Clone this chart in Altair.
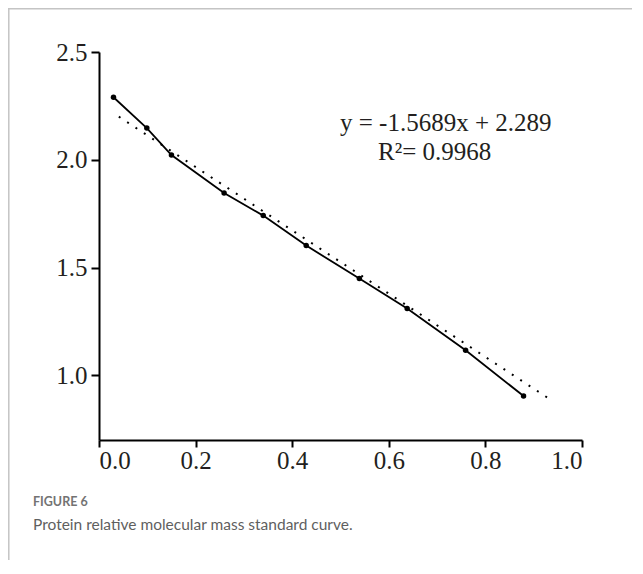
import altair as alt
import pandas as pd

# Data
x_vals = [0.030, 0.099, 0.150, 0.259, 0.340, 0.429, 0.539, 0.638, 0.759, 0.879]
y_vals = [2.290, 2.147, 2.022, 1.846, 1.741, 1.602, 1.449, 1.310, 1.116, 0.904]
trend_x = [0.041, 0.939]
trend_y = [2.200, 0.881]
x_ticks = [0.0, 0.2, 0.4, 0.6, 0.8, 1.0]
y_ticks = [1.0, 1.5, 2.0, 2.5]
eq_line1 = ["y = -1.5689x + 2.289"]
eq_line2 = ["R\u00b2= 0.9968"]
fig_label = ["FIGURE 6"]
fig_caption = ["Protein relative molecular mass standard curve."]

pts = pd.DataFrame({"x": x_vals, "y": y_vals})
trend = pd.DataFrame({"x": trend_x, "y": trend_y})

xs = alt.Scale(domain=[0, 1], nice=False, zero=False)
ys = alt.Scale(domain=[0.7, 2.5], nice=False, zero=False)

xax = alt.Axis(values=x_ticks, format=".1f", title=None, grid=False,
               tickSize=7, labelPadding=1)
yax = alt.Axis(values=y_ticks, format=".1f", title=None, grid=False,
               tickSize=8, labelPadding=4)

trend_layer = alt.Chart(trend).mark_line(
    color="black", strokeWidth=2, strokeDash=[2, 8], strokeCap="butt"
).encode(x=alt.X("x:Q", scale=xs, axis=xax), y=alt.Y("y:Q", scale=ys, axis=yax))

line_layer = alt.Chart(pts).mark_line(color="black", strokeWidth=1.8).encode(
    x=alt.X("x:Q", scale=xs), y=alt.Y("y:Q", scale=ys)
)
point_layer = alt.Chart(pts).mark_circle(color="black", opacity=1, size=30).encode(
    x=alt.X("x:Q", scale=xs), y=alt.Y("y:Q", scale=ys)
)

serif = "Liberation Serif"
eq1 = alt.Chart(pd.DataFrame({"t": eq_line1})).mark_text(
    font=serif, fontSize=25, align="left", baseline="alphabetic", color="#231f20"
).encode(text="t:N", x=alt.value(241), y=alt.value(78.5))
eq2 = alt.Chart(pd.DataFrame({"t": eq_line2})).mark_text(
    font=serif, fontSize=25, align="left", baseline="alphabetic", color="#231f20"
).encode(text="t:N", x=alt.value(279), y=alt.value(108))

cap1 = alt.Chart(pd.DataFrame({"t": fig_label})).mark_text(
    font="Lato", fontSize=12.5, fontWeight="bold", align="left", baseline="alphabetic", color="#737373"
).encode(text="t:N", x=alt.value(-66), y=alt.value(454))
cap2 = alt.Chart(pd.DataFrame({"t": fig_caption})).mark_text(
    font="Lato", fontSize=15.5, align="left", baseline="alphabetic", color="#5f5f5f"
).encode(text="t:N", x=alt.value(-66), y=alt.value(478))

border_top = alt.Chart(pd.DataFrame({"a": [0]})).mark_rule(color="#c4c4c4", strokeWidth=1.5).encode(
    x=alt.value(-91), x2=alt.value(560), y=alt.value(-43.2)
)
border_left = alt.Chart(pd.DataFrame({"a": [0]})).mark_rule(color="#c4c4c4", strokeWidth=1.5).encode(
    x=alt.value(-90.2), y=alt.value(-44), y2=alt.value(520)
)

chart = alt.layer(
    trend_layer, line_layer, point_layer, eq1, eq2, cap1, cap2, border_top, border_left
).properties(
    width=483,
    height=388,
    padding={"left": 91, "top": 44, "right": 50, "bottom": 120},
    autosize=alt.AutoSizeParams(type="none"),
).configure_view(stroke="transparent").configure_axis(
    domainColor="black",
    domainWidth=2,
    tickColor="black",
    tickWidth=2,
    labelFont=serif,
    labelFontSize=25,
    labelColor="#231f20",
)

chart.save("out.html", embed_options={"renderer": "svg", "actions": False})
